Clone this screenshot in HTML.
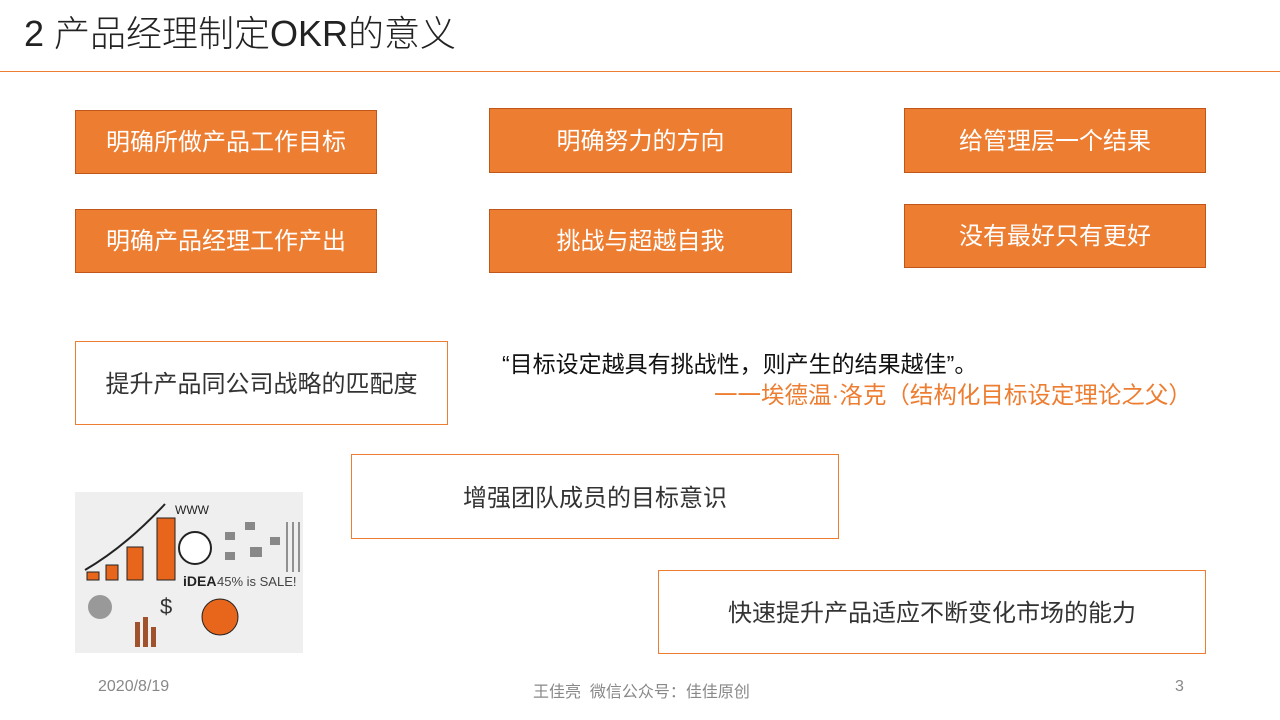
<!DOCTYPE html>
<html><head><meta charset="utf-8"><style>
*{margin:0;padding:0;box-sizing:border-box}
body{width:1280px;height:720px;background:#fff;position:relative;overflow:hidden;font-family:"Liberation Sans","Noto Sans CJK SC",sans-serif}
.t{position:absolute;left:24px;top:11px;font-size:36px;color:#222;line-height:46px;font-weight:300}
.hl{position:absolute;left:0;top:71px;width:1280px;height:1px;background:#ED7D31}
.b{position:absolute;background:#ED7D31;border:1px solid #C0561A;color:#fff;font-size:24px;display:flex;align-items:center;justify-content:center;padding-bottom:5px}
.w{position:absolute;background:#fff;border:1px solid #ED7D31;color:#333;font-size:24px;display:flex;align-items:center;justify-content:center;padding-bottom:3px}
.f{position:absolute;top:678px;font-size:16px;color:#888}
</style></head><body>
<div class="t">2 产品经理制定OKR的意义</div>
<div class="hl"></div>
<div class="b" style="left:75px;top:110px;width:302px;height:64px">明确所做产品工作目标</div>
<div class="b" style="left:489px;top:108px;width:303px;height:65px">明确努力的方向</div>
<div class="b" style="left:904px;top:108px;width:302px;height:65px">给管理层一个结果</div>
<div class="b" style="left:75px;top:209px;width:302px;height:64px">明确产品经理工作产出</div>
<div class="b" style="left:489px;top:209px;width:303px;height:64px">挑战与超越自我</div>
<div class="b" style="left:904px;top:204px;width:302px;height:64px">没有最好只有更好</div>
<div class="w" style="left:75px;top:341px;width:373px;height:84px">提升产品同公司战略的匹配度</div>
<div class="w" style="left:351px;top:454px;width:488px;height:85px">增强团队成员的目标意识</div>
<div class="w" style="left:658px;top:570px;width:548px;height:84px">快速提升产品适应不断变化市场的能力</div>
<div style="position:absolute;left:502px;top:345px;font-size:23px;color:#111">“目标设定越具有挑战性，则产生的结果越佳”。</div>
<div style="position:absolute;left:714px;top:376px;font-size:23.5px;color:#ED7D31">一一埃德温·洛克（结构化目标设定理论之父）</div>
<svg style="position:absolute;left:75px;top:492px" width="228" height="161" viewBox="0 0 228 161">
<rect width="228" height="161" fill="#efefef"/>
<rect x="12" y="80" width="12" height="8" fill="#E8661B" stroke="#222"/>
<rect x="31" y="73" width="12" height="15" fill="#E8661B" stroke="#222"/>
<rect x="52" y="55" width="16" height="33" fill="#E8661B" stroke="#222"/>
<rect x="82" y="26" width="18" height="62" fill="#E8661B" stroke="#222"/>
<path d="M10 78 Q50 55 90 12" fill="none" stroke="#222" stroke-width="2"/>
<text x="100" y="22" font-size="12" font-family="Liberation Sans" fill="#222">WWW</text>
<circle cx="120" cy="56" r="16" fill="#fff" stroke="#222" stroke-width="2"/>
<text x="108" y="94" font-size="14" font-weight="bold" font-family="Liberation Sans" fill="#222">iDEA</text>
<text x="142" y="94" font-size="13" font-family="Liberation Sans" fill="#444">45% is SALE!</text>
<circle cx="145" cy="125" r="18" fill="#E8661B" stroke="#222"/>
<circle cx="25" cy="115" r="12" fill="#999"/>
<text x="85" y="122" font-size="22" font-family="Liberation Sans" fill="#333">$</text>
<rect x="60" y="130" width="5" height="25" fill="#A0522D"/><rect x="68" y="125" width="5" height="30" fill="#A0522D"/><rect x="76" y="135" width="5" height="20" fill="#A0522D"/>
<g fill="#888"><rect x="150" y="40" width="10" height="8"/><rect x="170" y="30" width="10" height="8"/><rect x="175" y="55" width="12" height="10"/><rect x="150" y="60" width="10" height="8"/><rect x="195" y="45" width="10" height="8"/></g>
<path d="M212 30v50M218 30v50M224 30v50" stroke="#333"/>
</svg>
<div class="f" style="left:98px">2020/8/19</div>
<div class="f" style="left:533px">王佳亮&nbsp;&nbsp;微信公众号：佳佳原创</div>
<div class="f" style="left:1175px">3</div>
</body></html>
